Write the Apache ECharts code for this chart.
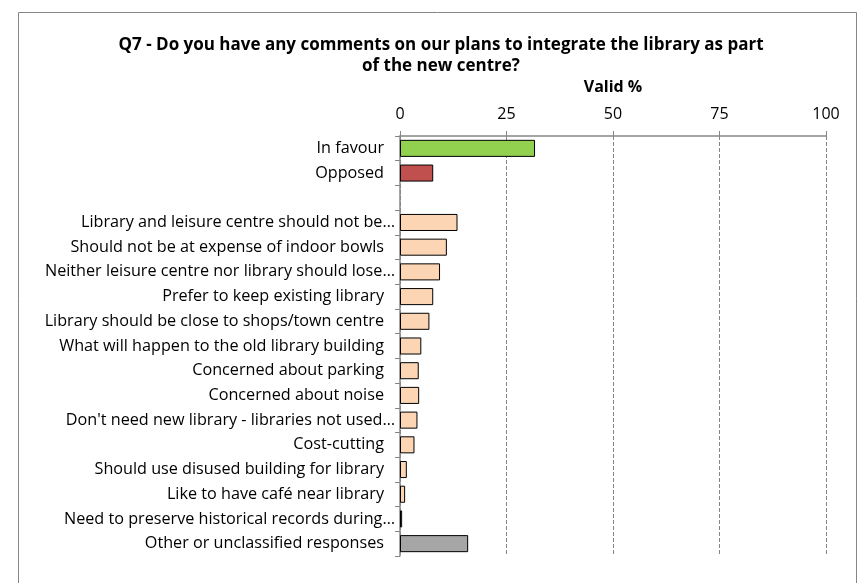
<!DOCTYPE html>
<html><head><meta charset="utf-8">
<script src="https://cdn.jsdelivr.net/npm/echarts@6/dist/echarts.min.js"></script>
<style>html,body{margin:0;padding:0;background:#fff}#c{width:859px;height:583px}</style>
</head><body><div id="c"></div>
<script>
const categories = [
  'In favour',
  'Opposed',
  '',
  'Library and leisure centre should not be…',
  'Should not be at expense of indoor bowls',
  'Neither leisure centre nor library should lose…',
  'Prefer to keep existing library',
  'Library should be close to shops/town centre',
  'What will happen to the old library building',
  'Concerned about parking',
  'Concerned about noise',
  "Don't need new library - libraries not used…",
  'Cost-cutting',
  'Should use disused building for library',
  'Like to have café near library',
  'Need to preserve historical records during…',
  'Other or unclassified responses'
];
const validPct = [31.7, 7.8, null, 13.5, 11.0, 9.4, 7.8, 6.9, 5.0, 4.4, 4.5, 4.1, 3.4, 1.6, 1.2, 0.5, 16.0];
const barColors = ['#92D050', '#C0504D', '#FCD5B5', '#FCD5B5', '#FCD5B5', '#FCD5B5', '#FCD5B5', '#FCD5B5', '#FCD5B5', '#FCD5B5', '#FCD5B5', '#FCD5B5', '#FCD5B5', '#FCD5B5', '#FCD5B5', '#FCD5B5', '#A6A6A6'];
const xTicks = [0, 25, 50, 75, 100];
const titleText = 'Q7 - Do you have any comments on our plans to integrate the library as part\nof the new centre?';
const axisTitle = 'Valid %';

const FONT = 'Open Sans';
const LS = 16.2;
const chart = echarts.init(document.getElementById('c'), null, {renderer: 'canvas'});
chart.setOption({
  animation: false,
  backgroundColor: '#fff',
  graphic: [{
    type: 'rect', shape: {x: 18.5, y: 12.5, width: 838, height: 600},
    style: {fill: 'none', stroke: '#868686', lineWidth: 1}, silent: true
  }],
  title: {
    text: titleText, left: 436, top: 30, textAlign: 'center',
    textStyle: {fontFamily: FONT, fontWeight: 'bold', fontSize: 17, color: '#000', lineHeight: 21}
  },
  grid: {left: 400, right: 33, top: 136, bottom: 27, containLabel: false},
  xAxis: {
    type: 'value', position: 'top', min: xTicks[0], max: xTicks[xTicks.length - 1], interval: 25,
    name: axisTitle, nameLocation: 'middle', nameGap: 41,
    nameTextStyle: {fontFamily: FONT, fontWeight: 'bold', fontSize: 16, color: '#000'},
    axisLine: {show: true, lineStyle: {color: '#868686', width: 1.5}},
    axisTick: {show: true, length: 5, lineStyle: {color: '#868686'}},
    axisLabel: {fontFamily: FONT, fontSize: 16, color: '#000', margin: 14},
    splitLine: {show: true, lineStyle: {color: '#868686', type: [4, 2], width: 1}}
  },
  yAxis: {
    type: 'category', inverse: true, data: categories,
    axisLine: {show: true, lineStyle: {color: '#868686', width: 1.5}},
    axisTick: {show: true, length: 5, lineStyle: {color: '#868686'}},
    axisLabel: {
      fontFamily: FONT, fontSize: LS, color: '#000', margin: 5,
      formatter: v => v.endsWith('…') ? '{e|' + v + '}' : '{n|' + v + '}',
      rich: {
        n: {fontFamily: FONT, fontSize: LS, color: '#000', padding: [0, 11, 0, 0]},
        e: {fontFamily: FONT, fontSize: LS, color: '#000'}
      }
    }
  },
  series: [{
    type: 'bar', barCategoryGap: '31%',
    data: validPct.map((v, i) => ({value: v, itemStyle: {color: barColors[i], borderColor: '#000', borderWidth: 1}}))
  }]
});
</script></body></html>
